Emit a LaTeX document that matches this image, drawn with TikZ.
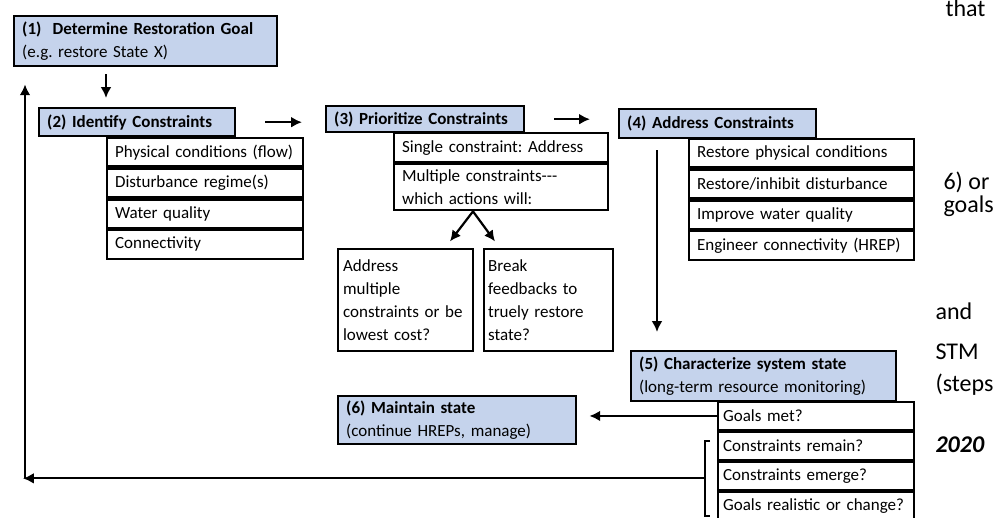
\documentclass[tikz,border=0pt]{standalone}
\usepackage{fontspec}
\setmainfont{Carlito}
\usetikzlibrary{arrows.meta,positioning,calc}

\begin{document}
\frenchspacing
\begin{tikzpicture}[x=1pt,y=-1pt,font=\fontsize{17}{23}\selectfont,
            stepbox/.style={draw,line width=2.4pt,fill=stepblue,anchor=north west,align=left,inner xsep=8pt,inner ysep=0pt,text width=#1},
            rowbox/.style={draw,line width=2.2pt,fill=white,anchor=north west,align=left,inner xsep=8pt,inner ysep=0pt,text width=#1,minimum height=28.5pt},
            arr/.style={line width=2.2pt,-{Latex[length=3.8mm,width=3.8mm]}},
            side/.style={anchor=base west,font=\fontsize{24}{28}\selectfont}]
            \definecolor{stepblue}{RGB}{197,211,236};
            \useasboundingbox (0,0) rectangle (1005,518);

            \node[stepbox=247pt,minimum height=50pt] (b1) at (13,15) {\textbf{(1)\ \ Determine Restoration Goal}\\(e.g. restore State X)};

            \node[stepbox=180pt,minimum height=28pt] (b2) at (38,107) {\textbf{(2) Identify Constraints}};
            \node[rowbox=180pt] (c21) at (106,137) {Physical conditions (flow)};
            \node[rowbox=180pt,below=0pt of c21] (c22) {Disturbance regime(s)};
            \node[rowbox=180pt,below=0pt of c22] (c23) {Water quality};
            \node[rowbox=180pt,below=0pt of c23] (c24) {Connectivity};

            \node[stepbox=182pt,minimum height=26pt] (b3) at (325,105) {\textbf{(3) Prioritize Constraints}};
            \node[rowbox=198pt,minimum height=29pt] (c31) at (393,132) {Single constraint: Address};
            \node[rowbox=198pt,minimum height=46pt,below=0pt of c31] (c32) {Multiple constraints-\kern0pt-\kern0pt-\\which actions will:};
            \node[rowbox=125pt,inner xsep=5pt,minimum height=102pt] (q1) at (337,248) {Address\\multiple\\constraints or be\\lowest cost?};
            \node[rowbox=121pt,inner xsep=4pt,minimum height=102pt] (q2) at (483,248) {Break\\feedbacks to\\truely restore\\state?};

            \node[stepbox=181pt,minimum height=29pt] (b4) at (618,108) {\textbf{(4) Address Constraints}};
            \node[rowbox=209pt] (c41) at (688,138) {Restore physical conditions};
            \node[rowbox=209pt,below=0pt of c41] (c42) {Restore/inhibit disturbance};
            \node[rowbox=209pt,below=0pt of c42] (c43) {Improve water quality};
            \node[rowbox=209pt,below=0pt of c43] (c44) {Engineer connectivity (HREP)};

            \node[stepbox=249pt,minimum height=50pt] (b5) at (630,350) {\textbf{(5) Characterize system state}\\(long-term resource monitoring)};
            \node[rowbox=186pt,inner xsep=5pt,minimum height=27.75pt] (c51) at (717,401) {Goals met?};
            \node[rowbox=186pt,inner xsep=5pt,minimum height=27.75pt,below=0pt of c51] (c52) {Constraints remain?};
            \node[rowbox=186pt,inner xsep=5pt,minimum height=27.75pt,below=0pt of c52] (c53) {Constraints emerge?};
            \node[rowbox=186pt,inner xsep=5pt,minimum height=27.75pt,below=0pt of c53] (c54) {Goals realistic or change?};

            \node[stepbox=222pt,minimum height=48pt] (b6) at (337,395) {\textbf{(6) Maintain state}\\(continue HREPs, manage)};

            % text running off the slide on the right
            \node[side] (t1) at (942,17) {that};
            \node[side] (t2) at (940,190) {6) or};
            \node[side] (t3) at (940,213) {goals};
            \node[side] (t4) at (932,320) {and};
            \node[side] (t5) at (932,360) {STM};
            \node[side] (t6) at (932,392) {(steps};
            \node[side] (t7) at (932,453) {\textbf{\textit{2020}}};

            \draw[arr,shorten <=7pt,shorten >=9pt] (b1.south -| c21.west) -- (b2.north -| c21.west);
            \draw[arr,shorten <=29pt,shorten >=23pt] (b2.east) -- (b2.east -| b3.west);
            \draw[arr,shorten <=29pt,shorten >=28pt] (b3.east) -- (b3.east -| b4.west);

            \coordinate (fk) at ([xshift=80pt]c32.south west);
            \coordinate (fkl) at ([xshift=-23pt,yshift=-30pt]fk);
            \coordinate (fkr) at ([xshift=22pt,yshift=-30pt]fk);
            \draw[arr] (fk) -- (fkl);
            \draw[arr] (fk) -- (fkr);

            \coordinate (d4) at ([xshift=39pt]b4.south west);
            \draw[arr,shorten <=11pt,shorten >=18pt] (d4) -- (d4 |- b5.north);

            \draw[arr,shorten >=12pt] (c51.west) -- (c51.west -| b6.east);

            \coordinate (brt) at ([xshift=-12pt,yshift=-10pt]c52.north west);
            \coordinate (brb) at ([xshift=-12pt,yshift=5pt]c54.south west);
            \draw[line width=2.2pt] ([xshift=5pt]brt) -- (brt) -- (brb) -- ([xshift=5pt]brb);
            \coordinate (brm) at ($(brt)!0.5!(brb)$);
            \coordinate (lc) at (25,0 |- brm);
            \draw[arr,shorten >=-2pt] (brm) -- (lc);
            \draw[arr,shorten >=17pt] (lc) -- (lc |- b1.south);
        \end{tikzpicture}
\end{document}
